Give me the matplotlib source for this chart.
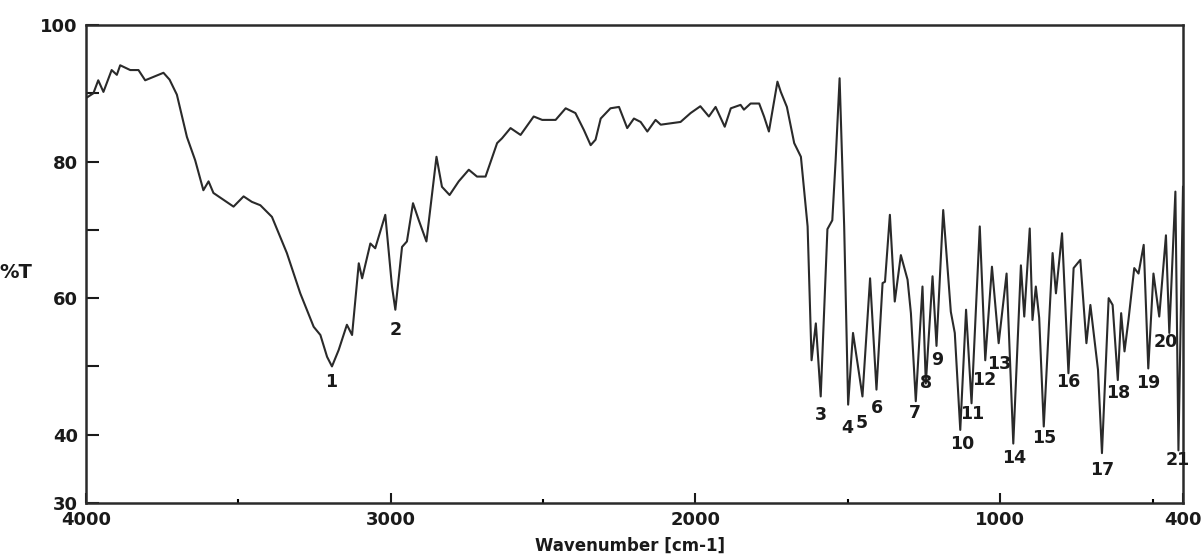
import matplotlib.pyplot as plt
from matplotlib.ticker import FixedLocator

# IR spectrum (wavenumber in cm-1, transmittance in %)
wavenumber = [
    4000, 3976, 3960, 3943, 3916, 3899, 3888, 3855, 3828, 3806, 3779, 3746,
    3726, 3702, 3669, 3642, 3615, 3598, 3582, 3549, 3516, 3483, 3456, 3428,
    3390, 3341, 3297, 3253, 3231, 3209, 3193, 3171, 3144, 3127, 3105, 3094,
    3067, 3051, 3018, 2996, 2985, 2963, 2947, 2927, 2908, 2883, 2850, 2832,
    2807, 2777, 2744, 2717, 2689, 2651, 2635, 2607, 2574, 2531, 2503, 2459,
    2426, 2394, 2366, 2344, 2328, 2311, 2279, 2251, 2224, 2202, 2180, 2158,
    2131, 2114, 2082, 2049, 2016, 1984, 1956, 1934, 1904, 1884, 1852, 1841,
    1819, 1791, 1775, 1759, 1731, 1720, 1700, 1676, 1654, 1632, 1619, 1605,
    1589, 1567, 1551, 1540, 1527, 1512, 1499, 1483, 1452, 1427, 1406, 1386,
    1378, 1362, 1346, 1326, 1304, 1293, 1277, 1255, 1244, 1222, 1209, 1187,
    1162, 1149, 1131, 1112, 1094, 1067, 1049, 1027, 1005, 979, 957, 932,
    921, 903, 894, 883, 872, 857, 828, 817, 797, 776, 759, 737,
    717, 704, 679, 666, 644, 631, 614, 603, 592, 579, 560, 546,
    529, 514, 497, 478, 456, 445, 425, 415, 400,
]
transmittance = [
    89.3, 90.0, 91.9, 90.2, 93.4, 92.7, 94.1, 93.4, 93.4, 91.9, 92.4, 93.0,
    92.0, 89.8, 83.6, 80.2, 75.8, 77.1, 75.4, 74.4, 73.4, 74.9, 74.1, 73.6,
    71.9, 66.6, 60.7, 55.8, 54.6, 51.4, 50.0, 52.4, 56.1, 54.6, 65.1, 62.9,
    68.0, 67.3, 72.2, 61.7, 58.3, 67.5, 68.3, 73.9, 71.4, 68.3, 80.7, 76.3,
    75.1, 77.1, 78.8, 77.8, 77.8, 82.7, 83.4, 84.9, 83.9, 86.6, 86.1, 86.1,
    87.8, 87.1, 84.6, 82.4, 83.2, 86.3, 87.8, 88.0, 84.9, 86.3, 85.8, 84.4,
    86.1, 85.4, 85.6, 85.8, 87.1, 88.1, 86.6, 88.0, 85.1, 87.8, 88.3, 87.6,
    88.5, 88.5, 86.6, 84.4, 91.7, 90.2, 88.0, 82.7, 80.7, 70.5, 50.9, 56.3,
    45.6, 70.1, 71.4, 80.2, 92.2, 70.5, 44.4, 54.9, 45.6, 62.9, 46.6, 62.2,
    62.4, 72.2, 59.5, 66.3, 62.7, 57.8, 44.9, 61.7, 47.5, 63.2, 53.0, 72.9,
    58.0, 54.9, 40.7, 58.3, 44.6, 70.5, 50.9, 64.6, 53.4, 63.6, 38.7, 64.8,
    57.3, 70.2, 56.8, 61.7, 57.1, 41.2, 66.6, 60.7, 69.5, 49.0, 64.4, 65.6,
    53.4, 59.0, 49.5, 37.3, 60.0, 59.0, 48.0, 57.8, 52.2, 56.8, 64.4, 63.6,
    67.8, 49.7, 63.6, 57.3, 69.2, 54.9, 75.6, 37.7, 76.3,
]

# numbered peak labels (where each number sits)
peak_labels = [str(i) for i in range(1, 22)]
peak_wn = [3195, 2985, 1589, 1503, 1454, 1405, 1280, 1244, 1208, 1126, 1093,
           1053, 1004, 955, 856, 777, 666, 613, 515, 455, 416]
peak_t = [47.7, 55.3, 42.9, 41.0, 41.7, 43.9, 43.2, 47.6, 51.0, 38.7, 43.0,
          48.0, 50.4, 36.6, 39.5, 47.7, 34.8, 46.1, 47.6, 53.6, 36.3]

y_ticks = [30, 40, 50, 60, 70, 80, 90, 100]
y_tick_labels = ["30", "40", "", "60", "", "80", "", "100"]
x_ticks = [4000, 3000, 2000, 1000, 400]
x_tick_labels = ["4000", "3000", "2000", "1000", "400"]
x_minor = [3500, 2500, 1500, 500]

fig = plt.figure(figsize=(12.02, 5.54), dpi=100)
ax = fig.add_axes([0.0716, 0.0921, 0.9126, 0.8628])

ax.plot(wavenumber, transmittance, color="#2a2a2a", linewidth=1.5)

for label, wn, t in zip(peak_labels, peak_wn, peak_t):
    ax.text(wn, t, label, ha="center", va="center", fontsize=12.5,
            fontweight="bold", color="#1a1a1a")

ax.set_xlim(4000, 400)
ax.set_ylim(30, 100)

ax.set_yticks(y_ticks)
ax.set_yticklabels(y_tick_labels)
ax.set_xticks(x_ticks)
ax.set_xticklabels(x_tick_labels)
ax.xaxis.set_minor_locator(FixedLocator(x_minor))

ax.tick_params(axis="y", direction="in", length=9, width=1.5, pad=6,
               labelsize=13, colors="#1a1a1a")
ax.tick_params(axis="x", which="major", direction="in", length=7, width=1.5,
               pad=6, labelsize=13, colors="#1a1a1a")
ax.tick_params(axis="x", which="minor", direction="in", length=3, width=1.5)
for lbl in ax.get_xticklabels() + ax.get_yticklabels():
    lbl.set_fontweight("bold")

for spine in ax.spines.values():
    spine.set_linewidth(1.8)
    spine.set_color("#2a2a2a")

ax.set_xlabel("Wavenumber [cm-1]", fontsize=12, fontweight="bold",
              color="#1a1a1a")
ax.xaxis.set_label_coords(0.496, -0.071)

# the "%T" axis title is cut off at the left edge in the scan
fig.text(32 / 1202, 1 - 273 / 554, "%T", ha="right", va="center",
         fontsize=14, fontweight="bold", color="#1a1a1a")

fig.savefig("out.png", dpi=100)
